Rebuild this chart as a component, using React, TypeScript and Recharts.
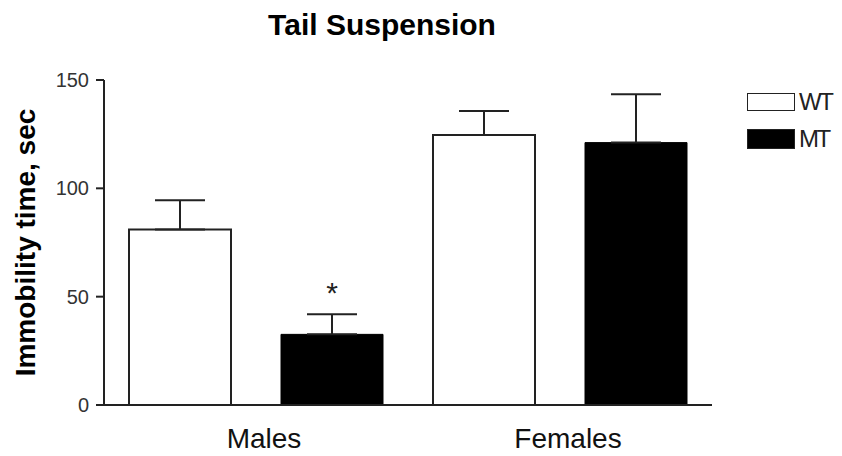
import {
    BarChart,
    Bar,
    XAxis,
    YAxis,
    ErrorBar,
    Legend,
    LabelList
} from "recharts";

// ==============================
// DATA
// ==============================
const groups = ["Males", "Females"];

const wtMeans = [81, 124.6];
const wtErrors = [13.5, 11.1];

const mtMeans = [32.6, 121.1];
const mtErrors = [9.3, 22.3];

const mtMarks = ["*", ""];

const yTicks = [0, 50, 100, 150];

const seriesNames = ["WT", "MT"];

const FONT = "'Liberation Sans', Arial, sans-serif";
const INK = "#222";

const chartData = groups.map((group, i) => ({
    group,
    WT: wtMeans[i],
    WTerr: [0, wtErrors[i]],
    MT: mtMeans[i],
    MTerr: [0, mtErrors[i]],
    mark: mtMarks[i]
}));

// asterisk above the MT error bar
const renderMark = (props: any) => {
    const { x, y, width, height, value, index } = props;
    if (!value) return null;
    const row = chartData[index];
    const pxPerUnit = height / row.MT;
    const errTop = y - mtErrors[index] * pxPerUnit;
    return (
        <text
            x={x + width / 2}
            y={errTop - 11}
            textAnchor="middle"
            fontFamily={FONT}
            fontSize={30}
            fill={INK}
        >
            {value}
        </text>
    );
};

// rotated y axis title
const renderYLabel = (props: any) => {
    const { viewBox } = props;
    const cx = viewBox.x + 25;
    const cy = viewBox.y + viewBox.height / 2;
    return (
        <text
            x={cx}
            y={cy}
            transform={`rotate(-90 ${cx} ${cy})`}
            textAnchor="middle"
            dominantBaseline="central"
            fontFamily={FONT}
            fontWeight="bold"
            fontSize={28}
            fill="#000"
        >
            Immobility time, sec
        </text>
    );
};

const renderLegend = () => (
    <div style={{ fontFamily: FONT }}>
        {seriesNames.map((name, i) => (
            <div
                key={name}
                style={{
                    display: "flex",
                    alignItems: "center",
                    height: 20,
                    marginBottom: 17
                }}
            >
                <div
                    style={{
                        width: 46,
                        height: 16 + i * 2,
                        border: `1px solid ${INK}`,
                        background: i === 0 ? "#fff" : "#000"
                    }}
                />
                <span
                    style={{
                        marginLeft: 4,
                        fontSize: 24,
                        letterSpacing: -2.5,
                        color: INK,
                        lineHeight: "20px"
                    }}
                >
                    {name}
                </span>
            </div>
        ))}
    </div>
);

export default function App() {
    return (
        <div
            style={{
                position: "absolute",
                left: 0,
                top: 0,
                width: 842,
                height: 456,
                background: "#fff"
            }}
        >
            {/* TITLE */}
            <div
                style={{
                    position: "absolute",
                    top: 10,
                    left: 382 - 200,
                    width: 400,
                    textAlign: "center",
                    fontFamily: FONT,
                    fontWeight: "bold",
                    fontSize: 30,
                    lineHeight: "30px",
                    color: "#000"
                }}
            >
                Tail Suspension
            </div>

            <BarChart
                width={842}
                height={456}
                data={chartData}
                margin={{ top: 80, right: 130, bottom: 0, left: 0 }}
                barCategoryGap={25}
                barGap={50}
            >
                <XAxis
                    dataKey="group"
                    height={51}
                    tickLine={false}
                    tickSize={0}
                    tickMargin={23}
                    axisLine={{ stroke: INK, strokeWidth: 2 }}
                    tick={{ fontFamily: FONT, fontSize: 28, fill: "#111", dx: 8 }}
                />
                <YAxis
                    width={104}
                    domain={[0, 150]}
                    ticks={yTicks}
                    tickSize={8}
                    tickMargin={7}
                    axisLine={{ stroke: INK, strokeWidth: 2 }}
                    tickLine={{ stroke: INK, strokeWidth: 2 }}
                    tick={{ fontFamily: FONT, fontSize: 20, fill: "#333" }}
                    label={renderYLabel}
                />
                <Legend
                    layout="horizontal"
                    verticalAlign="middle"
                    align="center"
                    content={renderLegend}
                    wrapperStyle={{ left: 747, top: 92, width: 95, height: 80 }}
                />
                <Bar
                    dataKey="WT"
                    name="WT"
                    fill="#fff"
                    stroke={INK}
                    strokeWidth={2}
                    isAnimationActive={false}
                >
                    <ErrorBar
                        dataKey="WTerr"
                        width={25}
                        stroke={INK}
                        strokeWidth={2}
                    />
                </Bar>
                <Bar
                    dataKey="MT"
                    name="MT"
                    fill="#000"
                    stroke="#000"
                    strokeWidth={1}
                    isAnimationActive={false}
                >
                    <ErrorBar
                        dataKey="MTerr"
                        width={25}
                        stroke={INK}
                        strokeWidth={2}
                    />
                    <LabelList dataKey="mark" content={renderMark} />
                </Bar>
            </BarChart>
        </div>
    );
}
